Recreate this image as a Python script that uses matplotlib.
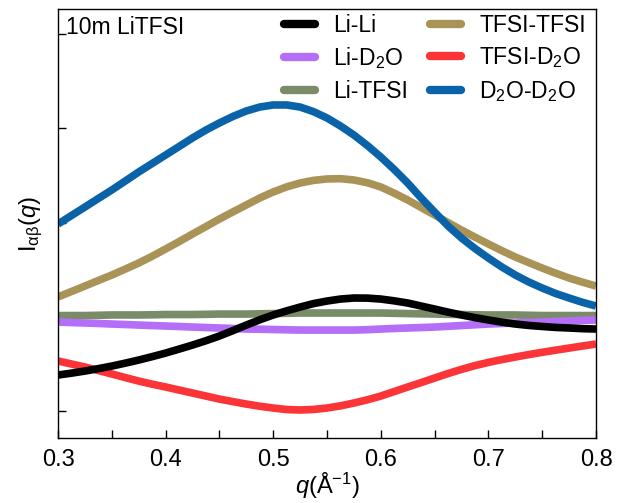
import numpy as np
import matplotlib
matplotlib.use('Agg')
import matplotlib.pyplot as plt
from matplotlib.ticker import MultipleLocator, FormatStrFormatter

plt.rcParams['font.family'] = ['Liberation Sans', 'DejaVu Sans']
plt.rcParams['mathtext.fontset'] = 'custom'
plt.rcParams['mathtext.rm'] = 'Liberation Sans'
plt.rcParams['mathtext.it'] = 'Liberation Sans:italic'

q = [0.3000, 0.3125, 0.3250, 0.3375, 0.3500, 0.3625, 0.3750, 0.3875, 0.4000, 0.4125,
     0.4250, 0.4375, 0.4500, 0.4625, 0.4750, 0.4875, 0.5000, 0.5125, 0.5250, 0.5375,
     0.5500, 0.5625, 0.5750, 0.5875, 0.6000, 0.6125, 0.6250, 0.6375, 0.6500, 0.6625,
     0.6750, 0.6875, 0.7000, 0.7125, 0.7250, 0.7375, 0.7500, 0.7625, 0.7750, 0.7875,
     0.8000]

li_li = [0.382, 0.402, 0.424, 0.450, 0.477, 0.508, 0.541, 0.577, 0.615, 0.657,
         0.700, 0.746, 0.796, 0.853, 0.912, 0.968, 1.019, 1.063, 1.103, 1.140,
         1.167, 1.188, 1.199, 1.198, 1.188, 1.169, 1.146, 1.114, 1.082, 1.049,
         1.019, 0.991, 0.966, 0.943, 0.923, 0.908, 0.897, 0.887, 0.881, 0.874,
         0.870]
li_d2o = [0.944, 0.939, 0.934, 0.929, 0.923, 0.918, 0.912, 0.907, 0.902, 0.897,
          0.891, 0.886, 0.881, 0.876, 0.870, 0.868, 0.865, 0.862, 0.859, 0.859,
          0.859, 0.859, 0.859, 0.863, 0.870, 0.876, 0.881, 0.886, 0.891, 0.899,
          0.907, 0.915, 0.923, 0.929, 0.934, 0.939, 0.944, 0.950, 0.955, 0.961,
          0.966]
li_tfsi = [1.013, 1.013, 1.013, 1.016, 1.019, 1.019, 1.019, 1.021, 1.024, 1.024,
           1.024, 1.026, 1.029, 1.029, 1.029, 1.031, 1.034, 1.037, 1.040, 1.040,
           1.040, 1.040, 1.040, 1.040, 1.040, 1.037, 1.034, 1.031, 1.029, 1.026,
           1.024, 1.021, 1.019, 1.019, 1.019, 1.016, 1.013, 1.013, 1.013, 1.013,
           1.013]
tfsi_tfsi = [1.210, 1.268, 1.326, 1.385, 1.443, 1.506, 1.570, 1.642, 1.719, 1.797,
             1.878, 1.957, 2.037, 2.112, 2.186, 2.260, 2.324, 2.378, 2.419, 2.447,
             2.462, 2.465, 2.451, 2.422, 2.377, 2.311, 2.239, 2.159, 2.080, 1.999,
             1.920, 1.845, 1.772, 1.701, 1.634, 1.575, 1.517, 1.462, 1.411, 1.367,
             1.326]
tfsi_d2o = [0.531, 0.499, 0.467, 0.430, 0.393, 0.355, 0.318, 0.285, 0.255, 0.223,
            0.191, 0.159, 0.127, 0.100, 0.074, 0.051, 0.032, 0.016, 0.011, 0.017,
            0.032, 0.055, 0.085, 0.119, 0.159, 0.207, 0.255, 0.302, 0.350, 0.398,
            0.442, 0.482, 0.516, 0.546, 0.573, 0.599, 0.623, 0.646, 0.668, 0.690,
            0.711]
d2o_d2o = [1.984, 2.074, 2.164, 2.255, 2.345, 2.440, 2.536, 2.626, 2.716, 2.806,
           2.897, 2.981, 3.056, 3.125, 3.183, 3.225, 3.247, 3.247, 3.225, 3.176,
           3.109, 3.024, 2.928, 2.817, 2.695, 2.562, 2.419, 2.260, 2.111, 1.963,
           1.836, 1.724, 1.623, 1.528, 1.443, 1.369, 1.305, 1.247, 1.199, 1.153,
           1.114]

series = [
    ('Li-Li', li_li, '#000000'),
    ('Li-D$_2$O', li_d2o, '#b56ef8'),
    ('Li-TFSI', li_tfsi, '#7a8b67'),
    ('TFSI-TFSI', tfsi_tfsi, '#a99357'),
    ('TFSI-D$_2$O', tfsi_d2o, '#fa3437'),
    ('D$_2$O-D$_2$O', d2o_d2o, '#0a63a8'),
]

fig = plt.figure(figsize=(6.18, 5.03), dpi=100)
ax = fig.add_axes([58/618, 1 - 438/503, (596-58)/618, (438-9)/503])

# draw order: green, purple, gold, blue, red, black on top
order = [2, 1, 3, 5, 4, 0]
handles = {}
for i in order:
    name, vals, col = series[i]
    ln, = ax.plot(q, vals, color=col, lw=5.5, label=name,
                  solid_capstyle='butt', solid_joinstyle='round')
    handles[i] = ln

ax.set_xlim(0.3, 0.8)
ax.set_ylim(-0.286, 4.265)
ax.xaxis.set_major_locator(MultipleLocator(0.1))
ax.xaxis.set_minor_locator(MultipleLocator(0.05))
ax.yaxis.set_major_locator(MultipleLocator(1))
ax.set_yticklabels([])
ax.tick_params(which='both', direction='in', length=5.5, width=1, labelsize=17)
ax.tick_params(axis='x', pad=8)
ax.xaxis.set_major_formatter(FormatStrFormatter('%.1f'))
for s in ax.spines.values():
    s.set_linewidth(1)

ax.set_xlabel(r'$q$(Å$^{-1}$)', fontsize=17, labelpad=0)
ax.set_ylabel(r'I$_{\mathrm{\alpha\beta}}$($q$)', fontsize=17, labelpad=6)

fig.text(66/618, 1 - 27/503, '10m LiTFSI', fontsize=16.5, va='center', ha='left')

leg = ax.legend([handles[i] for i in range(6)], [s[0] for s in series],
                ncol=2, frameon=False, fontsize=16.5, loc='upper left',
                bbox_to_anchor=(284/618, 1 - 14/503), bbox_transform=fig.transFigure,
                borderpad=0, borderaxespad=0, handlelength=1.35, handletextpad=0.8,
                columnspacing=0.95, labelspacing=0.37)
for l in leg.get_lines():
    l.set_solid_capstyle('round')
    l.set_linewidth(6)

fig.savefig('out.png', dpi=100)
